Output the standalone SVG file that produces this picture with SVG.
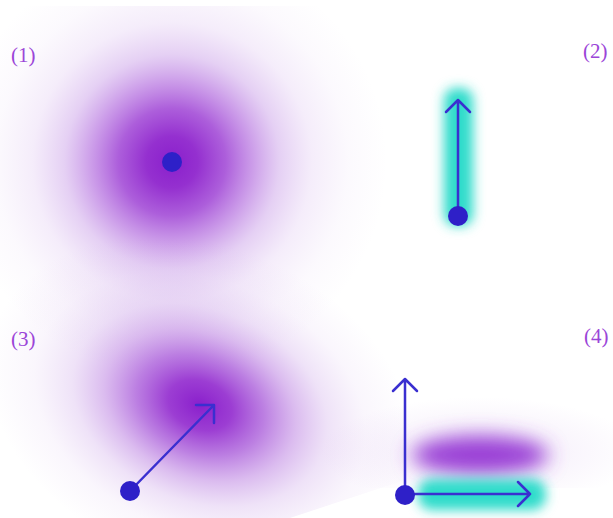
<svg xmlns="http://www.w3.org/2000/svg" width="613" height="518" viewBox="0 0 613 518">
  <style>
    .lbl { font-family: "Liberation Serif", "DejaVu Serif", serif; font-size: 21px; fill: #9b45d8; }
    .dot { fill: #2e20c8; }
    .arr { fill: none; stroke: #3a2fd0; stroke-width: 2.5; stroke-linecap: round; stroke-linejoin: round; }
  </style>
  <defs>
    <radialGradient id="g1" cx="172" cy="162" r="215" gradientUnits="userSpaceOnUse">
      <stop offset="0" stop-color="#8a1fcc" stop-opacity="1"/>
      <stop offset="0.12" stop-color="#8f25cd" stop-opacity="0.95"/>
      <stop offset="0.25" stop-color="#9836d2" stop-opacity="0.8"/>
      <stop offset="0.38" stop-color="#a450d8" stop-opacity="0.55"/>
      <stop offset="0.5" stop-color="#b070dd" stop-opacity="0.33"/>
      <stop offset="0.65" stop-color="#bb85e1" stop-opacity="0.15"/>
      <stop offset="0.82" stop-color="#c090e2" stop-opacity="0.05"/>
      <stop offset="1" stop-color="#c090e2" stop-opacity="0"/>
    </radialGradient>
    <radialGradient id="g3" cx="0" cy="0" r="1" gradientUnits="userSpaceOnUse" gradientTransform="translate(200 405) rotate(22) scale(220 160)">
      <stop offset="0" stop-color="#8a1fcc" stop-opacity="1"/>
      <stop offset="0.15" stop-color="#9128ce" stop-opacity="0.9"/>
      <stop offset="0.3" stop-color="#9c42d4" stop-opacity="0.68"/>
      <stop offset="0.45" stop-color="#a95ed9" stop-opacity="0.42"/>
      <stop offset="0.6" stop-color="#b57cde" stop-opacity="0.22"/>
      <stop offset="0.78" stop-color="#c090e2" stop-opacity="0.08"/>
      <stop offset="1" stop-color="#c090e2" stop-opacity="0"/>
    </radialGradient>
    <radialGradient id="g4h" cx="0" cy="0" r="1" gradientUnits="userSpaceOnUse" gradientTransform="translate(480 452) scale(160 55)">
      <stop offset="0" stop-color="#b070dd" stop-opacity="0.22"/>
      <stop offset="0.6" stop-color="#c090e2" stop-opacity="0.08"/>
      <stop offset="1" stop-color="#c090e2" stop-opacity="0"/>
    </radialGradient>
    <filter id="blur" x="-50%" y="-50%" width="200%" height="200%">
      <feGaussianBlur stdDeviation="6"/>
    </filter>
    <filter id="blurP" x="-50%" y="-100%" width="200%" height="300%">
      <feGaussianBlur stdDeviation="10"/>
    </filter>
    <clipPath id="top">
      <rect x="0" y="6" width="613" height="512"/>
    </clipPath>
  </defs>

  <rect width="613" height="518" fill="#ffffff"/>

  <g id="panel1">
    <rect x="0" y="0" width="613" height="518" fill="url(#g1)" clip-path="url(#top)"/>
    <circle class="dot" cx="172" cy="162" r="10"/>
    <text class="lbl" x="11" y="62">(1)</text>
  </g>

  <g id="panel3">
    <rect x="0" y="0" width="613" height="518" fill="url(#g3)"/>
    <polygon points="290,518 405,480 613,488 613,518" fill="#ffffff"/>
    <text class="lbl" x="11" y="346">(3)</text>
  </g>

  <g id="panel2">
    <rect x="444" y="88" width="29" height="138" rx="12" fill="#2fdccb" filter="url(#blur)"/>
    <text class="lbl" x="583" y="58">(2)</text>
  </g>

  <g id="panel4">
    <rect x="300" y="380" width="313" height="108" fill="url(#g4h)"/>
    <ellipse cx="480" cy="455" rx="68" ry="19" fill="#9a40d6" filter="url(#blurP)"/>
    <rect x="418" y="479" width="128" height="31" rx="14" fill="#2fdccb" filter="url(#blur)"/>
    <text class="lbl" x="584" y="343">(4)</text>
  </g>

  <g id="connectors">
    <path class="arr" d="M458 215 V100 M446 112 L458 100 L470 112"/>
    <path class="arr" d="M130 491 L214 405 M196 405 H214 V423"/>
    <path class="arr" d="M405 494 V379 M393 391 L405 379 L417 391"/>
    <path class="arr" d="M405 494 H530 M518 482 L530 494 L518 506"/>
  </g>

  <g id="dots">
    <circle class="dot" cx="458" cy="216" r="10"/>
    <circle class="dot" cx="130" cy="491" r="10"/>
    <circle class="dot" cx="405" cy="495" r="10"/>
  </g>
</svg>
